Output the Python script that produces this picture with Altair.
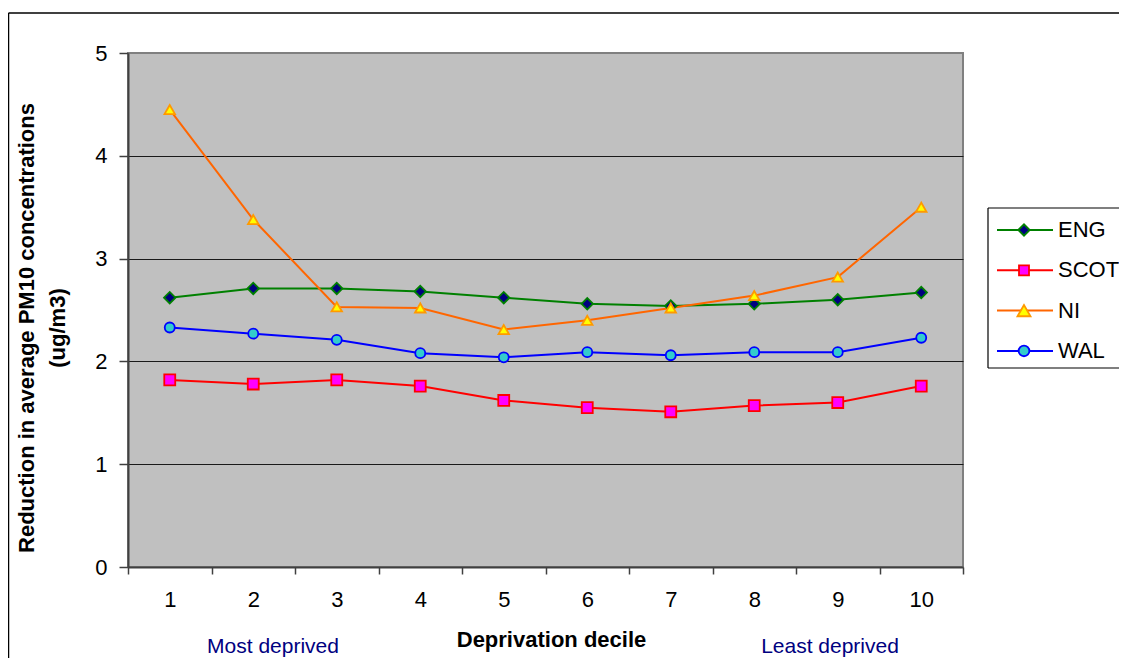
import altair as alt
import pandas as pd

# ---- data ----
deciles = [str(i) for i in range(1, 11)]
series = ["ENG", "SCOT", "NI", "WAL"]
eng = [2.62, 2.71, 2.71, 2.68, 2.62, 2.56, 2.54, 2.56, 2.60, 2.67]
scot = [1.82, 1.78, 1.82, 1.76, 1.62, 1.55, 1.51, 1.57, 1.60, 1.76]
ni = [4.45, 3.38, 2.53, 2.52, 2.31, 2.40, 2.52, 2.64, 2.82, 3.50]
wal = [2.33, 2.27, 2.21, 2.08, 2.04, 2.09, 2.06, 2.09, 2.09, 2.23]
y_ticks = [0, 1, 2, 3, 4, 5]

line_colors = ["#008000", "#FF0000", "#FF6600", "#0000FF"]
fill_colors = ["#000080", "#FF00FF", "#FFFF00", "#33CCCC"]
stroke_colors = ["#008000", "#FF0000", "#FF9900", "#0000FF"]
shapes = ["diamond", "square", "triangle-up", "circle"]
sizes = [130, 100, 170, 115]

FONT = "Liberation Sans"

rows = []
for name, vals in zip(series, [eng, scot, ni, wal]):
    for d, v in zip(deciles, vals):
        rows.append({"decile": d, "value": v, "series": name})
df = pd.DataFrame(rows)

W, H = 835, 514

x_enc = alt.X(
    "decile:O",
    sort=deciles,
    scale=alt.Scale(type="band", paddingInner=0, paddingOuter=0),
    axis=alt.Axis(
        labelAngle=0, tickBand="extent", tickSize=7, tickColor="#404040", tickWidth=1.5,
        labelPadding=15, labelFontSize=22, labelFont=FONT, labelColor="black",
        domainColor="#404040", domainWidth=2, grid=False,
        title="Deprivation decile", titleFont=FONT, titleFontSize=22, titleFontWeight="bold",
        titleColor="black", titleX=423, titleY=79, titleBaseline="alphabetic", titleAlign="center",
    ),
)
y_enc = alt.Y(
    "value:Q",
    scale=alt.Scale(domain=[0, 5], nice=False),
    axis=alt.Axis(
        values=y_ticks, tickSize=9, tickColor="#404040", tickWidth=1.5, labelPadding=12,
        labelFontSize=22, labelFont=FONT, labelColor="black",
        domainColor="#404040", domainWidth=2,
        grid=True, gridColor="#1a1a1a", gridWidth=1,
        gridOpacity=alt.condition("datum.value == 0 || datum.value == 5", alt.value(0), alt.value(1)),
        title=None,
    ),
)

base = alt.Chart(df)
lines = base.mark_line(strokeWidth=2).encode(
    x=x_enc, y=y_enc,
    color=alt.Color("series:N", scale=alt.Scale(domain=series, range=line_colors), legend=None),
    detail="series:N",
)
points = base.mark_point(opacity=1, fillOpacity=1, strokeWidth=1.8).encode(
    x=x_enc, y=y_enc,
    fill=alt.Fill("series:N", scale=alt.Scale(domain=series, range=fill_colors), legend=None),
    stroke=alt.Stroke("series:N", scale=alt.Scale(domain=series, range=stroke_colors), legend=None),
    shape=alt.Shape("series:N", scale=alt.Scale(domain=series, range=shapes), legend=None),
    size=alt.Size("series:N", scale=alt.Scale(domain=series, range=sizes), legend=None),
)

dummy = alt.Chart(pd.DataFrame({"a": [0]}))

# outer frame: only top and left edges are inside the picture
frame_top = dummy.mark_rule(color="black", strokeWidth=1.5).encode(
    x=alt.value(-119.5), x2=alt.value(1100), y=alt.value(-40)
)
frame_left = dummy.mark_rule(color="black", strokeWidth=1.5).encode(
    x=alt.value(-119.5), y=alt.value(-40), y2=alt.value(700)
)

ytitle1 = dummy.mark_text(
    text="Reduction in average PM10 concentrations", angle=270, font=FONT, fontSize=22,
    fontWeight="bold", align="center", baseline="middle", color="black",
).encode(x=alt.value(-101), y=alt.value(275))
ytitle2 = dummy.mark_text(
    text="(ug/m3)", angle=270, font=FONT, fontSize=22,
    fontWeight="bold", align="center", baseline="middle", color="black",
).encode(x=alt.value(-70), y=alt.value(275))

most = dummy.mark_text(
    text="Most deprived", font=FONT, fontSize=21, color="#000080", align="center",
    baseline="alphabetic",
).encode(x=alt.value(145), y=alt.value(600))
least = dummy.mark_text(
    text="Least deprived", font=FONT, fontSize=21, color="#000080", align="center",
    baseline="alphabetic",
).encode(x=alt.value(702), y=alt.value(600))

# legend (box runs off the right edge of the picture)
legend_fill = dummy.mark_rect(fill="white").encode(
    x=alt.value(860), x2=alt.value(1100), y=alt.value(155), y2=alt.value(315)
)
legend_layers = [legend_fill]
for (xa, xb, ya, yb) in [(860, 1100, 155, None), (860, 1100, 315, None), (860, None, 155, 315)]:
    enc = {"x": alt.value(xa), "y": alt.value(ya)}
    if xb is not None:
        enc["x2"] = alt.value(xb)
    if yb is not None:
        enc["y2"] = alt.value(yb)
    legend_layers.append(dummy.mark_rule(color="black", strokeWidth=1.2).encode(**enc))

for i, name in enumerate(series):
    ly = 177 + 40.3 * i
    d = alt.Chart(pd.DataFrame({"s": [name]}))
    legend_layers.append(
        d.mark_rule(color=line_colors[i], strokeWidth=2).encode(
            x=alt.value(869), x2=alt.value(925), y=alt.value(ly)
        )
    )
    legend_layers.append(
        d.mark_point(opacity=1, fillOpacity=1, strokeWidth=1.8, shape=shapes[i],
                     fill=fill_colors[i], stroke=stroke_colors[i], size=sizes[i]).encode(
            x=alt.value(896), y=alt.value(ly)
        )
    )
    legend_layers.append(
        d.mark_text(font=FONT, fontSize=22, align="left", baseline="middle", color="black").encode(
            x=alt.value(930), y=alt.value(ly), text="s:N"
        )
    )

chart = alt.layer(
    frame_top, frame_left, lines, points, ytitle1, ytitle2, most, least, *legend_layers
).properties(
    width=W, height=H,
    autosize=alt.AutoSizeParams(type="none"),
    padding={"left": 120, "top": 45, "right": 156, "bottom": 106},
    background="white",
).configure_view(
    fill="#C0C0C0", stroke="#808080", strokeWidth=2
)

chart.save("out.html", embed_options={"renderer": "svg", "actions": False})
